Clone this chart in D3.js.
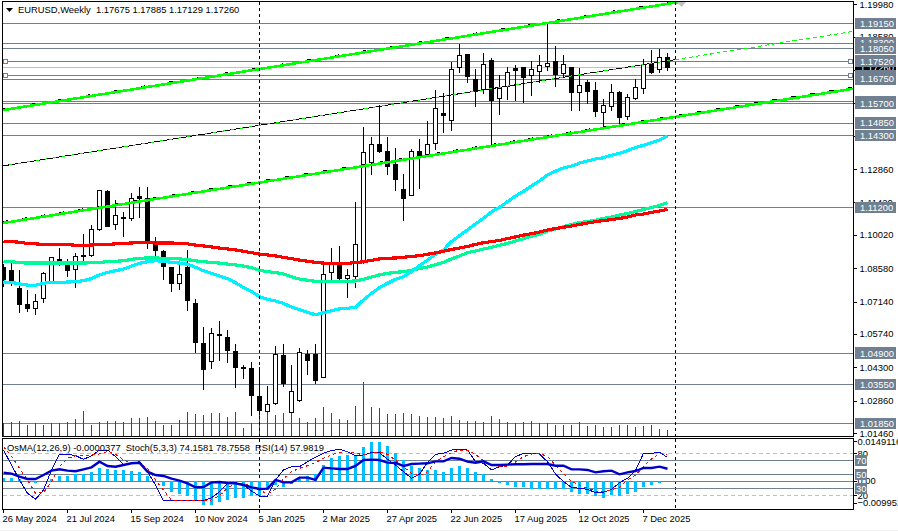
<!DOCTYPE html>
<html><head><meta charset="utf-8">
<script src="https://cdn.jsdelivr.net/npm/d3@7"></script>
<style>
html,body{margin:0;padding:0;background:#fff;overflow:hidden}
svg{display:block}
text{font-family:"Liberation Sans",Arial,sans-serif;font-size:9.4px;fill:#000}
</style></head><body><div id="chart"></div>
<script>
const title = "EURUSD,Weekly  1.17675 1.17885 1.17129 1.17260";
const subTitle = "OsMA(12,26,9) -0.0000377  Stoch(5,3,3) 74.1581 78.7558  RSI(14) 57.9819";
const opens = [1.0859,1.0846,1.0772,1.0703,1.0683,1.0728,1.0801,1.0896,1.0872,1.0852,1.0914,1.0914,1.1027,1.1189,1.1046,1.1079,1.1072,1.1166,1.1161,1.0963,1.0932,1.0863,1.0791,1.0859,1.0706,1.0531,1.0456,1.0572,1.0560,1.0499,1.0431,1.0426,1.0305,1.0240,1.0274,1.0479,1.0236,1.0286,1.0487,1.0483,1.0387,1.0840,1.0880,1.0813,1.0821,1.0890,1.1314,1.1393,1.1364,1.1304,1.1200,1.1173,1.1363,1.1348,1.1398,1.1527,1.1497,1.1724,1.1782,1.1671,1.1631,1.1756,1.1590,1.1645,1.1719,1.1723,1.1691,1.1709,1.1729,1.1749,1.1700,1.1726,1.1618,1.1661,1.1626,1.1530,1.1556,1.1619,1.1514,1.1590,1.1633,1.1743,1.1717,1.17675];
const highs = [1.0880,1.0893,1.0853,1.0764,1.0747,1.0843,1.0908,1.0948,1.0901,1.0927,1.1009,1.1048,1.1200,1.1200,1.1153,1.1101,1.1187,1.1213,1.1210,1.0997,1.0937,1.0865,1.0908,1.0937,1.0729,1.0608,1.0600,1.0630,1.0594,1.0534,1.0444,1.0456,1.0432,1.0353,1.0522,1.0534,1.0444,1.0515,1.0508,1.0531,1.0888,1.0948,1.0954,1.0858,1.1148,1.1472,1.1426,1.1567,1.1426,1.1380,1.1265,1.1376,1.1419,1.1494,1.1632,1.1615,1.1749,1.1827,1.1786,1.1722,1.1789,1.1769,1.1696,1.1731,1.1740,1.1731,1.1757,1.1779,1.1913,1.1818,1.1779,1.1731,1.1726,1.1675,1.1664,1.1589,1.1654,1.1625,1.1614,1.1678,1.1762,1.1801,1.1809,1.17885];
const lows = [1.0777,1.0785,1.0666,1.0670,1.0660,1.0709,1.0793,1.0868,1.0821,1.0774,1.0886,1.0908,1.1019,1.1040,1.1027,1.0997,1.1066,1.1079,1.0945,1.0908,1.0807,1.0757,1.0764,1.0677,1.0493,1.0335,1.0426,1.0458,1.0450,1.0342,1.0381,1.0221,1.0224,1.0238,1.0271,1.0346,1.0234,1.0284,1.0397,1.0358,1.0385,1.0807,1.0810,1.0731,1.0774,1.0880,1.1261,1.1356,1.1261,1.1193,1.1062,1.1170,1.1203,1.1347,1.1369,1.1443,1.1452,1.1703,1.1659,1.1556,1.1614,1.1390,1.1524,1.1588,1.1582,1.1573,1.1602,1.1661,1.1711,1.1642,1.1685,1.1538,1.1538,1.1570,1.1515,1.1462,1.1538,1.1481,1.1501,1.1585,1.1614,1.1697,1.1703,1.17129];
const closes = [1.0811,1.0803,1.0700,1.0686,1.0712,1.0836,1.0905,1.0885,1.0850,1.0909,1.0914,1.1026,1.1192,1.1040,1.1084,1.1075,1.1161,1.1157,1.0977,1.0934,1.0865,1.0791,1.0832,1.0718,1.0536,1.0420,1.0578,1.0566,1.0502,1.0428,1.0424,1.0307,1.0244,1.0270,1.0487,1.0358,1.0326,1.0492,1.0458,1.0372,1.0832,1.0880,1.0813,1.0827,1.0961,1.1359,1.1393,1.1361,1.1296,1.1243,1.1161,1.1363,1.1343,1.1393,1.1549,1.1517,1.1717,1.1778,1.1685,1.1622,1.1739,1.1582,1.1636,1.1703,1.1711,1.1680,1.1717,1.1735,1.1743,1.1694,1.1737,1.1616,1.1648,1.1620,1.1534,1.1562,1.1618,1.1510,1.1596,1.1640,1.1737,1.1703,1.1769,1.17260];
const volumes = [40,44,47,36,40,36,41,41,43,53,77,36,44,47,47,44,56,56,60,47,36,36,50,74,68,65,71,71,60,74,26,40,68,75,65,71,72,56,44,56,89,71,53,50,92,163,89,86,68,68,71,68,62,59,59,56,62,50,47,47,44,62,53,44,41,44,47,41,41,36,36,36,44,32,36,29,29,35,35,29,32,35,23,20];
const maRed = [1.0974,1.0973,1.0970,1.0965,1.0963,1.0961,1.0961,1.0961,1.0960,1.0957,1.0957,1.0958,1.0960,1.0961,1.0963,1.0965,1.0967,1.0968,1.0968,1.0967,1.0967,1.0967,1.0965,1.0963,1.0958,1.0954,1.0950,1.0945,1.0941,1.0937,1.0931,1.0925,1.0919,1.0915,1.0911,1.0905,1.0899,1.0893,1.0888,1.0883,1.0880,1.0879,1.0879,1.0879,1.0882,1.0886,1.0892,1.0898,1.0901,1.0902,1.0905,1.0909,1.0912,1.0918,1.0924,1.0931,1.0939,1.0945,1.0952,1.0961,1.0968,1.0973,1.0978,1.0986,1.0993,1.1001,1.1007,1.1014,1.1023,1.1029,1.1035,1.1040,1.1047,1.1053,1.1059,1.1064,1.1068,1.1073,1.1079,1.1088,1.1092,1.1099,1.1105,1.1112];
const maGreen = [1.0888,1.0886,1.0882,1.0880,1.0880,1.0880,1.0880,1.0880,1.0880,1.0880,1.0880,1.0882,1.0883,1.0886,1.0888,1.0890,1.0896,1.0901,1.0902,1.0902,1.0901,1.0899,1.0898,1.0895,1.0890,1.0886,1.0883,1.0880,1.0876,1.0872,1.0867,1.0860,1.0849,1.0843,1.0839,1.0833,1.0821,1.0811,1.0806,1.0801,1.0800,1.0800,1.0800,1.0801,1.0803,1.0810,1.0820,1.0829,1.0836,1.0840,1.0843,1.0849,1.0857,1.0863,1.0873,1.0883,1.0898,1.0911,1.0925,1.0932,1.0941,1.0948,1.0957,1.0965,1.0975,1.0986,1.0996,1.1004,1.1019,1.1027,1.1037,1.1047,1.1055,1.1060,1.1065,1.1073,1.1079,1.1088,1.1094,1.1103,1.1112,1.1120,1.1129,1.1141];
const maCyan = [1.0798,1.0797,1.0790,1.0785,1.0784,1.0793,1.0797,1.0797,1.0798,1.0800,1.0804,1.0813,1.0829,1.0840,1.0847,1.0854,1.0867,1.0879,1.0886,1.0890,1.0888,1.0883,1.0880,1.0875,1.0862,1.0847,1.0836,1.0824,1.0813,1.0795,1.0775,1.0757,1.0735,1.0723,1.0716,1.0706,1.0690,1.0679,1.0667,1.0657,1.0666,1.0674,1.0682,1.0685,1.0689,1.0721,1.0749,1.0774,1.0793,1.0810,1.0821,1.0843,1.0869,1.0893,1.0918,1.0937,1.0973,1.0999,1.1023,1.1049,1.1074,1.1101,1.1121,1.1145,1.1170,1.1190,1.1213,1.1235,1.1261,1.1277,1.1291,1.1299,1.1312,1.1321,1.1330,1.1335,1.1346,1.1354,1.1366,1.1379,1.1389,1.1400,1.1412,1.1428];
const osma = [.0012,.0012,.0008,-.0004,-.0008,-.0001,.0008,.0017,.0017,.0025,.0025,.0034,.0048,.0044,.0041,.0038,.0037,.0034,.0018,-.0004,-.0018,-.0037,-.0044,-.0053,-.0068,-.0085,-.0083,-.0072,-.0065,-.0060,-.0059,-.0054,-.0052,-.0033,-.0013,-.0019,-.0009,.0009,.0020,.0027,.0057,.0081,.0088,.0092,.0094,.0121,.0138,.0138,.0124,.0100,.0074,.0053,.0048,.0039,.0039,.0033,.0045,.0052,.0046,.0034,.0026,.0006,-.0007,-.0015,-.0020,-.0022,-.0028,-.0028,-.0028,-.0027,-.0027,-.0040,-.0044,-.0047,-.0054,-.0058,-.0048,-.0054,-.0045,-.0039,-.0022,-.0015,-.0005,-.0000377];
const rsi = [52.3,50.9,46.6,43.3,43.3,49,55.2,57.1,55.2,54.3,57.1,60,68,61.9,60.9,63.3,65.7,66.6,53.8,49,47.6,43.8,40.9,37.1,31.4,31.9,38.5,39,37.6,37.1,34.7,31.4,29,29.5,41.9,38.5,38.5,45.2,45.2,41.9,59.5,58.5,57.6,57.6,61.9,70.4,70.9,70.4,66.6,66.2,61.9,64.7,65.2,65.7,68.5,68.5,73.3,72.3,68,66.6,68.5,63.3,63.3,63.8,64.3,64.3,64.7,64.7,64.7,62.3,62.3,57.1,57.1,56.2,52.8,54.3,55.2,50,52.8,54.7,59,59,60.9,57.98];
const stochMain = [84.7,63.3,41.9,22.8,14.3,27.6,56.2,79,79,76.6,71.4,76.2,84.7,84.7,75.2,64.3,65.7,68,53.8,34.7,12.3,12.3,12.3,12.3,12.3,12.3,16.6,25.2,37.1,38,34.7,26.2,19,19,41.9,56.2,60.9,60.9,68,74.3,80,83.8,85.7,82.3,76.2,77.6,80.9,80.9,71.4,63.3,53.8,44.3,50,67.1,78.5,80,84.7,85.7,84.7,68,65.7,56.2,60.9,63.3,75.2,80,80,79,68,50.4,39.5,31.4,30,28.5,23.8,24.3,28.5,38,44.3,55.2,80,80,81.4,74.16];
const stochSignal = [89.5,76.2,58.5,41.9,22.8,23.8,39.5,60.9,72.8,76.6,76.2,77.6,79,82.3,78.5,70.4,65.7,65.7,58.5,41.9,27.6,13.3,12.3,12.3,12.3,12.3,13.3,19.5,30,37.1,37.1,32.3,27.6,21.9,28.5,43.3,53.8,58.5,62.3,66.6,72.8,78,80.9,82.3,80.4,77.6,79.5,82.3,78.5,70,60.9,51.4,47.6,53.8,68,75.2,80.9,84.7,84.7,78.5,69.5,63.3,60.9,61.9,67.6,75.2,79,80,75.2,63.3,51.4,39.5,34.7,30,26.2,25.2,27.6,31.4,41.9,49,60.9,71.9,80,78.76];

const levelPrices = [1.1915,1.1830,1.1805,1.1752,1.1690,1.1675,1.1578,1.1570,1.1485,1.1430,1.1120,1.0490,1.0355,1.0185];
const handlePrices = [1.1752,1.1690];
const lastPrice = 1.1726;
const priceTicks = [1.1998,1.1858,1.1714,1.1570,1.1430,1.1286,1.1142,1.1002,1.0858,1.0714,1.0574,1.0430,1.0286,1.0146];
const dateTickBars = [0,8,16,24,32,40,48,56,64,72,80];
const dateTickLabels = ["26 May 2024","21 Jul 2024","15 Sep 2024","10 Nov 2024","5 Jan 2025","2 Mar 2025","27 Apr 2025","22 Jun 2025","17 Aug 2025","12 Oct 2025","7 Dec 2025"];
const separatorBars = [32,84];
const channelTopBars = [0,84.5];   const channelTopPrices = [1.1541,1.2008];
const channelMidBars = [0,84];     const channelMidPrices = [1.1300,1.1759];
const channelRayBars = [84,106.1]; const channelRayPrices = [1.1759,1.1880];
const channelLowBars = [0,106.25]; const channelLowPrices = [1.1053,1.1633];
const solidLevels = [70,50,30];
const dashedLevels = [80,20];
const osmaRange = [-0.009951,0.0149116];

const W=898,H=531,L=3,R=854;
const x=d3.scaleLinear().domain([0,83]).range([3,667]);
const bx=i=>Math.round(x(i))+.5;
const y=d3.scaleLinear().domain([1.1998,1.0146]).range([4.3,433]);
const sy=p=>Math.round(y(p)-.5)+.5;
const vy=d3.scaleLinear().domain([0,300]).range([436.7,336.7]);
const oy=d3.scaleLinear().domain(osmaRange).range([509.3,439]);
const ry=d3.scaleLinear().domain([0,100]).range([509.3,439.3]);

const svg=d3.select("#chart").append("svg").attr("width",W).attr("height",H);
svg.append("rect").attr("width",W).attr("height",H).attr("fill","#fff");
svg.append("rect").attr("y",530).attr("width",W).attr("height",1).attr("fill","#f0f0f0");
const defs=svg.append("defs");
defs.append("clipPath").attr("id","cm").append("rect").attr("x",L).attr("y",2).attr("width",R-L).attr("height",434);
defs.append("clipPath").attr("id","ci").append("rect").attr("x",L).attr("y",439).attr("width",R-L).attr("height",70);

const main=svg.append("g").attr("clip-path","url(#cm)");
const hl=main.append("g").attr("shape-rendering","crispEdges");
hl.selectAll("line.l").data(levelPrices).join("line").attr("class","l")
 .attr("x1",L).attr("x2",R).attr("y1",sy).attr("y2",sy).attr("stroke","#708090");
hl.append("line").attr("x1",L).attr("x2",R).attr("y1",sy(lastPrice)).attr("y2",sy(lastPrice)).attr("stroke","#c0c0c0");

main.append("g").attr("shape-rendering","crispEdges").selectAll("line").data(volumes).join("line")
 .attr("x1",(d,i)=>bx(i)).attr("x2",(d,i)=>bx(i)).attr("y1",vy(0)).attr("y2",d=>vy(d)).attr("stroke","#0a6e0a");

separatorBars.forEach(b=>{
 const px=Math.round(x(b))+.5;
 svg.append("line").attr("x1",px).attr("x2",px).attr("y1",2).attr("y2",436).attr("stroke","#000").attr("stroke-dasharray","3,3").attr("shape-rendering","crispEdges");
 svg.append("line").attr("x1",px).attr("x2",px).attr("y1",439).attr("y2",509).attr("stroke","#000").attr("stroke-dasharray","3,3").attr("shape-rendering","crispEdges");
});

const c=main.append("g").attr("shape-rendering","crispEdges");
const idx=d3.range(opens.length);
c.selectAll("line").data(idx).join("line")
 .attr("x1",bx).attr("x2",bx).attr("y1",i=>sy(highs[i])).attr("y2",i=>sy(lows[i])).attr("stroke","#000");
c.selectAll("rect").data(idx).join("rect")
 .attr("x",i=>bx(i)-2).attr("width",4)
 .attr("y",i=>sy(Math.max(opens[i],closes[i])))
 .attr("height",i=>Math.max(1,sy(Math.min(opens[i],closes[i]))-sy(Math.max(opens[i],closes[i]))))
 .attr("fill",i=>closes[i]>opens[i]?"#fff":"#000").attr("stroke","#000");

const seg=(bars,prices)=>d3.line().x((d,i)=>x(bars[i])).y((d,i)=>y(prices[i]))(bars);
const tr=main.append("g").attr("fill","none").attr("shape-rendering","crispEdges");
tr.append("path").attr("d",seg(channelTopBars,channelTopPrices)).attr("stroke","#000").attr("stroke-width",1).attr("stroke-dasharray","4,24").attr("transform","translate(0,-1.5)");
tr.append("path").attr("d",seg(channelLowBars,channelLowPrices)).attr("stroke","#000").attr("stroke-width",1).attr("stroke-dasharray","5,14").attr("transform","translate(0,-1.5)");
tr.append("path").attr("d",seg(channelTopBars,channelTopPrices)).attr("stroke","#00ff00").attr("stroke-width",2.6);
tr.append("path").attr("d",seg(channelLowBars,channelLowPrices)).attr("stroke","#00ff00").attr("stroke-width",2.6);
tr.append("path").attr("d",seg(channelMidBars,channelMidPrices)).attr("stroke","#00ff00").attr("stroke-width",1);
tr.append("path").attr("d",seg(channelMidBars,channelMidPrices)).attr("stroke","#000").attr("stroke-width",1).attr("stroke-dasharray","6,3");
tr.append("path").attr("d",seg(channelRayBars,channelRayPrices)).attr("stroke","#00ff00").attr("stroke-width",1).attr("stroke-dasharray","4,3");

const lineP=d3.line().x((d,i)=>bx(i)).y(d=>y(d));
[[maGreen,"#00fa9a"],[maCyan,"#00f0ff"],[maRed,"#ff0000"]].forEach(([s,col])=>{
 main.append("path").attr("d",lineP(s)).attr("fill","none").attr("stroke",col).attr("stroke-width",3.2).attr("shape-rendering","crispEdges");
});

handlePrices.forEach(p=>{
 [3,848].forEach(hx=>svg.append("rect").attr("x",hx+.5).attr("y",sy(p)-2).attr("width",4).attr("height",4)
   .attr("fill","#fff").attr("stroke","#708090").attr("shape-rendering","crispEdges"));
});
svg.append("path").attr("d","M677,2H686L681.5,7Z").attr("fill","#c0c0c0");

const ind=svg.append("g").attr("clip-path","url(#ci)");
const il=ind.append("g").attr("shape-rendering","crispEdges");
il.selectAll("line.s").data(solidLevels).join("line").attr("class","s").attr("x1",L).attr("x2",R)
 .attr("y1",d=>Math.round(ry(d)-.5)+.5).attr("y2",d=>Math.round(ry(d)-.5)+.5).attr("stroke","#708090");
il.append("line").attr("x1",L).attr("x2",R).attr("y1",Math.round(oy(0)-.5)+.5).attr("y2",Math.round(oy(0)-.5)+.5).attr("stroke","#708090");
il.selectAll("line.d").data(dashedLevels).join("line").attr("class","d").attr("x1",L).attr("x2",R)
 .attr("y1",d=>Math.round(ry(d)-.5)+.5).attr("y2",d=>Math.round(ry(d)-.5)+.5).attr("stroke","#c0c0c0").attr("stroke-dasharray","4,3");
ind.append("g").attr("shape-rendering","crispEdges").selectAll("rect").data(osma).join("rect")
 .attr("x",(d,i)=>bx(i)-1.5).attr("width",3)
 .attr("y",d=>Math.min(oy(d),oy(0))).attr("height",d=>Math.abs(oy(d)-oy(0)))
 .attr("fill","#00bfff");
const lineR=d3.line().x((d,i)=>bx(i)).y(d=>ry(d));
ind.append("path").attr("d",lineR(stochMain)).attr("fill","none").attr("stroke","#0000cd").attr("stroke-width",1).attr("shape-rendering","crispEdges");
ind.append("path").attr("d",lineR(stochSignal)).attr("fill","none").attr("stroke","#ff0000").attr("stroke-width",1).attr("stroke-dasharray","3,3").attr("shape-rendering","crispEdges");
ind.append("path").attr("d",lineR(rsi)).attr("fill","none").attr("stroke","#0000cd").attr("stroke-width",2.4);

const frame=svg.append("g").attr("shape-rendering","crispEdges").attr("fill","none").attr("stroke","#000");
frame.append("rect").attr("x",2.5).attr("y",1.5).attr("width",851).attr("height",435);
frame.append("rect").attr("x",2.5).attr("y",438.5).attr("width",851).attr("height",71);

const yAxis=d3.axisRight(y).tickValues(priceTicks).tickFormat(d3.format(".5f")).tickSize(3).tickPadding(3);
const ax=svg.append("g").attr("transform","translate(853.5,0)").call(yAxis);
ax.select(".domain").remove();
ax.selectAll("line").attr("stroke","#000").attr("shape-rendering","crispEdges");
ax.attr("font-size",null).attr("font-family",null);

const tag=(py,txt,bg)=>{
 svg.append("rect").attr("x",855).attr("y",py-6).attr("width",41).attr("height",11.5).attr("fill",bg).attr("shape-rendering","crispEdges");
 svg.append("text").attr("x",860).attr("y",py+3.3).text(txt).style("fill","#fff");
};
tag(y(lastPrice),lastPrice.toFixed(5),"#000");
levelPrices.forEach(p=>tag(y(p),p.toFixed(5),"#708090"));

const indTick=(py,txt)=>{
 svg.append("text").attr("x",857.5).attr("y",py+3.3).text(txt);
 svg.append("line").attr("x1",854).attr("x2",857).attr("y1",Math.round(py-.5)+.5).attr("y2",Math.round(py-.5)+.5).attr("stroke","#000").attr("shape-rendering","crispEdges");
};
indTick(441.5,d3.format(".7f")(osmaRange[1]));
indTick(oy(0),"0.00");
dashedLevels.forEach(d=>indTick(ry(d),String(d)));
indTick(503,d3.format(".6f")(osmaRange[0]));
solidLevels.forEach(d=>{
 const py=ry(d);
 svg.append("rect").attr("x",855).attr("y",py-5.5).attr("width",11.5).attr("height",11).attr("fill","#708090").attr("shape-rendering","crispEdges");
 svg.append("text").attr("x",856).attr("y",py+3.3).text(String(d)).style("fill","#fff");
});

const xg=svg.append("g");
xg.selectAll("line").data(dateTickBars).join("line")
 .attr("x1",d=>bx(d)).attr("x2",d=>bx(d)).attr("y1",510).attr("y2",513).attr("stroke","#000").attr("shape-rendering","crispEdges");
xg.selectAll("text").data(dateTickLabels).join("text")
 .attr("x",(d,i)=>bx(dateTickBars[i])-1).attr("y",522).text(d=>d);

svg.append("path").attr("d","M6,8H13L9.5,12Z").attr("fill","#000");
svg.append("text").attr("x",18).attr("y",13).style("white-space","pre").text(title);
svg.append("text").attr("x",7).attr("y",450.5).style("white-space","pre").text(subTitle);
</script></body></html>
